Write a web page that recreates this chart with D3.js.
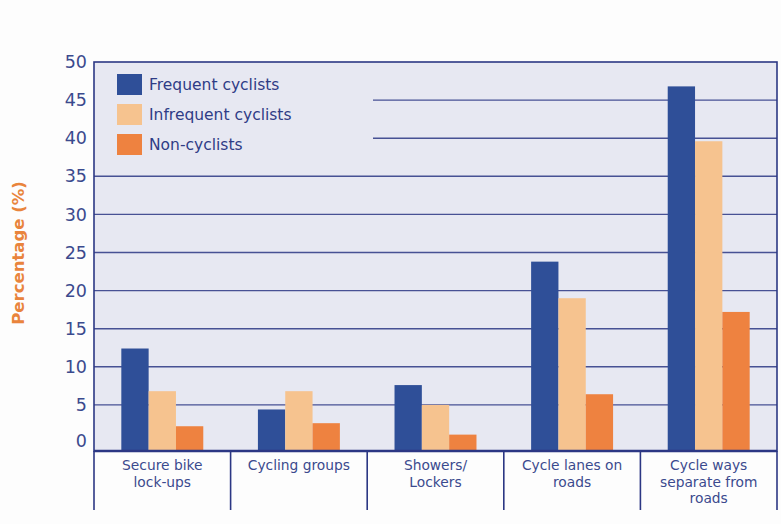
<!DOCTYPE html>
<html>
<head>
<meta charset="utf-8">
<script src="https://cdn.jsdelivr.net/npm/d3@7"></script>
<style>
  html, body { margin: 0; padding: 0; background: #fdfdfd; }
  svg { display: block; }
  text { font-family: "DejaVu Sans", Verdana, sans-serif; }
</style>
</head>
<body>
<svg id="chart" width="781" height="524"></svg>
<script>
// Facilities that would encourage more cycling, by cyclist type
const categories = [
  ["Secure bike", "lock-ups"],
  ["Cycling groups"],
  ["Showers/", "Lockers"],
  ["Cycle lanes on", "roads"],
  ["Cycle ways", "separate from", "roads"]
];
const seriesNames = ["Frequent cyclists", "Infrequent cyclists", "Non-cyclists"];
const frequent   = [12.4, 4.4, 7.6, 23.8, 46.8];
const infrequent = [6.8, 6.8, 5.0, 19.0, 39.6];
const nonCyclist = [2.2, 2.6, 1.1, 6.4, 17.2];
const yTicks = [0, 5, 10, 15, 20, 25, 30, 35, 40, 45, 50];
const colors = ["#2f4f98", "#f6c38f", "#ee8240"];

const series = [frequent, infrequent, nonCyclist];
const svg = d3.select("#chart");

const plotLeft = 94, plotRight = 777, plotTop = 62, plotBottom = 451;
const navy = "#2c3784";
const textBlue = "#3b4a8e";

// The value axis runs a little below zero so the bars sit on the category strip
const yMin = -1.05;
const y = d3.scaleLinear().domain([yMin, 50]).range([plotBottom, plotTop]);
const keys = categories.map((c, i) => i);
const x0 = d3.scaleBand().domain(keys).range([plotLeft, plotRight])
  .paddingInner(0.4).paddingOuter(0.2);
const x1 = d3.scaleBand().domain(d3.range(series.length)).range([0, x0.bandwidth()]);
const slot = d3.scaleBand().domain(keys).range([plotLeft, plotRight]);

// plot background
svg.append("rect")
  .attr("x", plotLeft).attr("y", plotTop)
  .attr("width", plotRight - plotLeft).attr("height", plotBottom - plotTop)
  .attr("fill", "#e7e8f2");

// horizontal gridlines; the upper two stop short of the legend
const legendEdge = 373;
svg.append("g").selectAll("line")
  .data(yTicks.filter(t => t > 0 && t < 50))
  .join("line")
  .attr("x1", d => d >= 40 ? legendEdge : plotLeft)
  .attr("x2", plotRight)
  .attr("y1", d => y(d)).attr("y2", d => y(d))
  .attr("stroke", navy).attr("stroke-width", 1.4).attr("opacity", 0.85);

// bars
const groups = svg.append("g").selectAll("g")
  .data(keys).join("g")
  .attr("transform", i => `translate(${x0(i)},0)`);
groups.selectAll("rect")
  .data(i => series.map((s, k) => ({ k, v: s[i] })))
  .join("rect")
  .attr("x", d => x1(d.k))
  .attr("width", x1.bandwidth())
  .attr("y", d => y(d.v))
  .attr("height", d => y(yMin) - y(d.v))
  .attr("fill", d => colors[d.k]);

// plot frame
svg.append("rect")
  .attr("x", plotLeft).attr("y", plotTop)
  .attr("width", plotRight - plotLeft).attr("height", plotBottom - plotTop)
  .attr("fill", "none").attr("stroke", navy).attr("stroke-width", 1.6);

// category strip below the axis
const stripBottom = 510;
svg.append("line")
  .attr("x1", plotLeft).attr("x2", plotRight)
  .attr("y1", plotBottom).attr("y2", plotBottom)
  .attr("stroke", navy).attr("stroke-width", 2.4);
svg.append("g").selectAll("line")
  .data(d3.range(keys.length + 1))
  .join("line")
  .attr("x1", i => i < keys.length ? slot(i) : plotRight)
  .attr("x2", i => i < keys.length ? slot(i) : plotRight)
  .attr("y1", plotBottom).attr("y2", stripBottom)
  .attr("stroke", navy).attr("stroke-width", 1.6);

const catText = svg.append("g").selectAll("text")
  .data(keys).join("text")
  .attr("x", i => slot(i) + slot.bandwidth() / 2)
  .attr("y", 470)
  .attr("text-anchor", "middle")
  .attr("font-size", 13.8)
  .attr("fill", textBlue);
catText.selectAll("tspan")
  .data(i => categories[i].map(line => ({ i, line })))
  .join("tspan")
  .attr("x", d => slot(d.i) + slot.bandwidth() / 2)
  .attr("dy", (d, j) => j === 0 ? 0 : 16.5)
  .text(d => d.line);

// y tick labels
const yAxis = d3.axisLeft(y).tickValues(yTicks).tickSize(0).tickPadding(7);
const ya = svg.append("g").attr("transform", `translate(${plotLeft},0)`).call(yAxis);
ya.select(".domain").remove();
ya.selectAll("text")
  .attr("font-family", "'DejaVu Sans', Verdana, sans-serif")
  .attr("font-size", 17.5)
  .attr("fill", textBlue)
  .attr("dy", "0.32em");
ya.selectAll(".tick").filter(d => d === 0)
  .select("text").attr("transform", "translate(0,-2)");

// y title
svg.append("text")
  .attr("transform", "translate(24,253) rotate(-90)")
  .attr("text-anchor", "middle")
  .attr("font-size", 16.5)
  .attr("font-weight", "bold")
  .attr("fill", "#e9843c")
  .text("Percentage (%)");

// legend
const legend = svg.append("g").attr("transform", "translate(117,74)");
const li = legend.selectAll("g").data(seriesNames).join("g")
  .attr("transform", (d, i) => `translate(0,${i * 30})`);
li.append("rect")
  .attr("width", 25).attr("height", 21)
  .attr("fill", (d, i) => colors[i]);
li.append("text")
  .attr("x", 32).attr("y", 11)
  .attr("dy", "0.35em")
  .attr("font-size", 15.5)
  .attr("fill", "#2f3c86")
  .text(d => d);
</script>
</body>
</html>
